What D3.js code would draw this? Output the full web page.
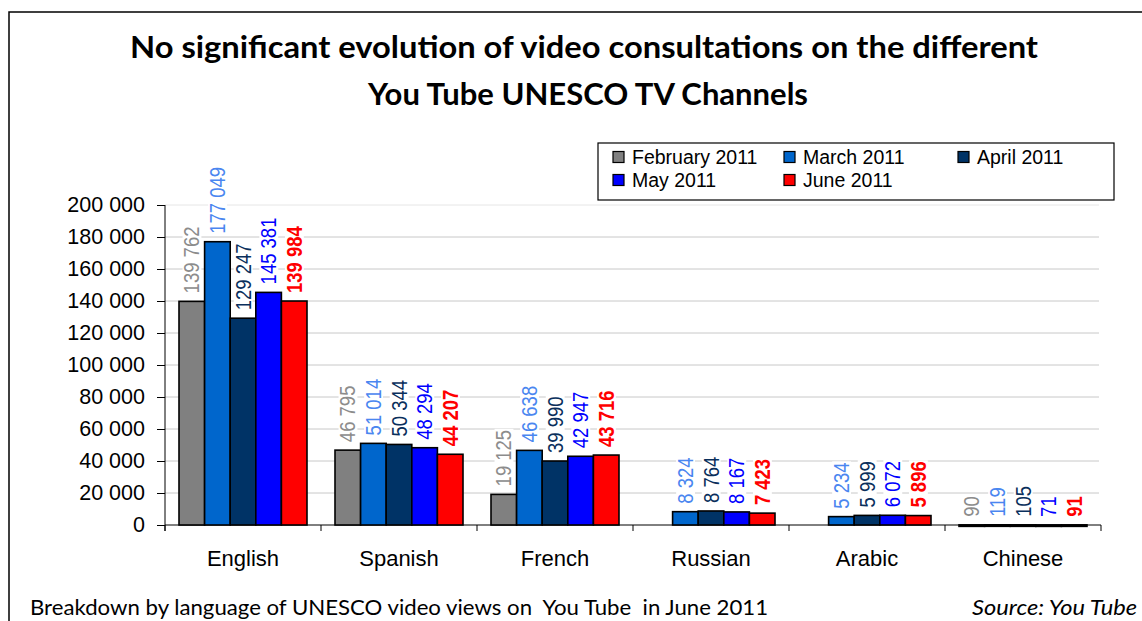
<!DOCTYPE html>
<html><head><meta charset="utf-8">
<script src="https://cdn.jsdelivr.net/npm/d3@7"></script>
<style>body{margin:0;background:#fff}svg{display:block}</style>
</head><body>
<svg id="c" width="1142" height="621"></svg>
<script>
const categories = ["English","Spanish","French","Russian","Arabic","Chinese"];
const seriesNames = ["February 2011","March 2011","April 2011","May 2011","June 2011"];
const feb = [139762, 46795, 19125, null, null, 90];
const mar = [177049, 51014, 46638, 8324, 5234, 119];
const apr = [129247, 50344, 39990, 8764, 5999, 105];
const may = [145381, 48294, 42947, 8167, 6072, 71];
const jun = [139984, 44207, 43716, 7423, 5896, 91];
const yTicks = [0,20000,40000,60000,80000,100000,120000,140000,160000,180000,200000];
const titleLines = ["No significant evolution of video consultations on the different","You Tube UNESCO TV Channels"];
const footLeft = "Breakdown by language of UNESCO video views on  You Tube  in June 2011";
const footRight = "Source: You Tube";

const seriesValues = [feb, mar, apr, may, jun];
const barColors = ["#808080","#0066cc","#003366","#0000ff","#ff0000"];
const labelColors = ["#8c8c8c","#4a86f0","#0a2f5c","#0000ff","#ff0000"];

const svg = d3.select("#c");
const fmt = v => d3.format(",")(v).replace(/,/g, " ");

// frame
svg.append("rect").attr("x",9).attr("y",12).attr("width",1150).attr("height",640)
  .attr("fill","none").attr("stroke","#000").attr("stroke-width",1.5);

// title
const tl = [[titleLines[0],584,58,908],[titleLines[1],588,105,440]];
tl.forEach(([t,x,y,w]) => {
  svg.append("text").attr("x",x).attr("y",y).attr("text-anchor","middle")
    .attr("font-family","Lato, 'Open Sans', sans-serif").attr("font-weight","bold")
    .attr("font-size",31).attr("textLength",w).attr("lengthAdjust","spacingAndGlyphs")
    .attr("fill","#000").text(t);
});

const x0 = d3.scaleBand().domain(categories).range([165,1101]).padding(0);
const x1 = d3.scaleBand().domain(seriesNames).range([14,142]).padding(0);
const y = d3.scaleLinear().domain([0,200000]).range([525,205]);

// gridlines
svg.append("g").selectAll("line").data(yTicks.filter(d=>d>0)).join("line")
  .attr("x1",165).attr("x2",1099).attr("y1",d=>y(d)).attr("y2",d=>y(d))
  .attr("stroke",d=>d===200000?"#e6e6e6":"#c8c8c8").attr("stroke-width",1);

// y axis
const yAxis = d3.axisLeft(y).tickValues(yTicks).tickFormat(fmt).tickSize(8).tickPadding(12);
const gy = svg.append("g").attr("transform","translate(165,0)").call(yAxis);
gy.select(".domain").attr("stroke","#000").attr("d","M0,531V205");
gy.selectAll(".tick line").attr("stroke","#000");
gy.selectAll(".tick text").attr("font-family","'Liberation Sans', Arial, sans-serif")
  .attr("font-size",21.5).attr("fill","#000");

// x axis
const gx = svg.append("g").attr("transform","translate(0,525)");
gx.append("line").attr("x1",165).attr("x2",1101).attr("stroke","#000").attr("stroke-width",1);
const bounds = categories.map(c=>x0(c)).concat([x0(categories[categories.length-1])+x0.bandwidth()]);
gx.selectAll("line.t").data(bounds).join("line").attr("class","t")
  .attr("x1",d=>d).attr("x2",d=>d).attr("y1",0).attr("y2",6).attr("stroke","#000");
gx.selectAll("text").data(categories).join("text")
  .attr("x",d=>x0(d)+x0.bandwidth()/2).attr("y",41).attr("text-anchor","middle")
  .attr("font-family","'Liberation Sans', Arial, sans-serif").attr("font-size",22).attr("fill","#000")
  .text(d=>d);

// bars and labels
const flat = [];
categories.forEach((c,i)=>seriesNames.forEach((s,j)=>{
  const v = seriesValues[j][i];
  if (v !== null) flat.push({c, s, j, v});
}));
svg.append("g").selectAll("rect").data(flat).join("rect")
  .attr("x",d=>x0(d.c)+x1(d.s)).attr("width",x1.bandwidth())
  .attr("y",d=>y(d.v)).attr("height",d=>Math.max(y(0)-y(d.v),1.5))
  .attr("fill",d=>barColors[d.j]).attr("stroke","#000").attr("stroke-width",1.6);

const lg = svg.append("g");
flat.forEach(d=>{
  const cx = x0(d.c)+x1(d.s)+x1.bandwidth()/2;
  const g = lg.append("g").attr("transform",`translate(${cx},${y(d.v)-8}) rotate(-90) scale(1,1.15)`);
  const bg = g.append("rect").attr("fill","#fff");
  const t = g.append("text").attr("x",0).attr("y",0).attr("dy","0.36em")
    .attr("font-family","'Liberation Sans', Arial, sans-serif").attr("font-size",18.5)
    .attr("font-weight",d.j===4?"bold":"normal").attr("fill",labelColors[d.j]).text(fmt(d.v));
  const b = t.node().getBBox();
  bg.attr("x",b.x-1).attr("y",b.y+2).attr("width",b.width+2).attr("height",b.height-4);
});

// legend
const leg = svg.append("g");
leg.append("rect").attr("x",598).attr("y",143).attr("width",516).attr("height",57)
  .attr("fill","#fff").attr("stroke","#000").attr("stroke-width",1.2);
const legPos = [[613,157],[784,157],[958,157],[613,180],[784,180]];
seriesNames.forEach((s,j)=>{
  const [lx,ly] = legPos[j];
  leg.append("rect").attr("x",lx).attr("y",ly-5.5).attr("width",11).attr("height",11)
    .attr("fill",barColors[j]).attr("stroke","#000").attr("stroke-width",1.2);
  leg.append("text").attr("x",lx+19).attr("y",ly).attr("dy","0.36em")
    .attr("font-family","'Liberation Sans', Arial, sans-serif").attr("font-size",19.5)
    .attr("fill","#000").text(s);
});

// footer
svg.append("text").attr("x",30).attr("y",615).attr("font-family","Lato, 'Open Sans', sans-serif")
  .attr("font-size",21).attr("textLength",738).attr("lengthAdjust","spacingAndGlyphs")
  .style("white-space","pre").attr("fill","#000").text(footLeft);
svg.append("text").attr("x",1137).attr("y",615).attr("text-anchor","end")
  .attr("font-family","Lato, 'Open Sans', sans-serif").attr("font-style","italic")
  .attr("font-size",21).attr("textLength",165).attr("lengthAdjust","spacingAndGlyphs")
  .attr("fill","#000").text(footRight);
</script>
</body></html>
